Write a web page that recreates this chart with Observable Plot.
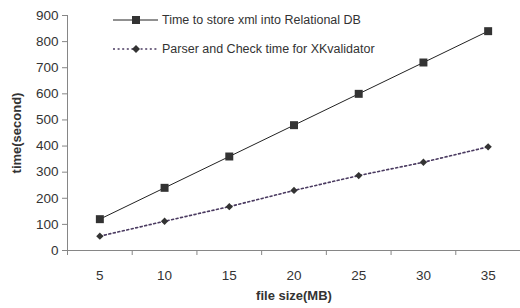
<!DOCTYPE html>
<html><head><meta charset="utf-8">
<script src="https://cdn.jsdelivr.net/npm/d3@7"></script>
<script src="https://cdn.jsdelivr.net/npm/@observablehq/plot@0.6"></script>
<style>
html,body{margin:0;padding:0;background:#fff;}
#wrap{position:relative;width:520px;height:308px;font-family:"Liberation Sans",Arial,sans-serif;}
#legend{position:absolute;left:113px;top:12px;font-size:12.5px;color:#333;}
.item{display:flex;align-items:center;height:16px;margin-bottom:13px;}
.item svg{margin-right:3px;}
</style></head>
<body><div id="wrap"></div>
<script>
const sizes = [5, 10, 15, 20, 25, 30, 35];
const storeTimes = [120, 240, 360, 480, 600, 720, 840];
const parserTimes = [55, 112, 168, 230, 287, 338, 397];
const yTicks = [0, 100, 200, 300, 400, 500, 600, 700, 800, 900];
const seriesNames = ["Time to store xml into Relational DB", "Parser and Check time for XKvalidator"];
const xTitle = "file size(MB)";
const yTitle = "time(second)";

const step = sizes[1] - sizes[0];
const xDomain = [sizes[0] - step / 2, sizes[sizes.length - 1] + step / 2];
const bounds = sizes.map(s => s - step / 2).concat([sizes[sizes.length - 1] + step / 2]);
const store = sizes.map((s, i) => ({size: s, t: storeTimes[i]}));
const parser = sizes.map((s, i) => ({size: s, t: parserTimes[i]}));
const axisColor = "#868686";

const plot = Plot.plot({
  width: 520, height: 308,
  marginLeft: 67, marginRight: 0, marginTop: 15, marginBottom: 58,
  style: {fontFamily: "'Liberation Sans', Arial, sans-serif", fontSize: "13.5px", color: "#333", background: "#fff"},
  x: {domain: xDomain},
  y: {domain: [0, 900]},
  marks: [
    Plot.axisY({ticks: yTicks, tickSize: 5, tickPadding: 4, stroke: axisColor, label: null, fontSize: 13.5}),
    Plot.axisX({ticks: sizes, tickSize: 0, tickPadding: 20, label: null, fontSize: 13.5}),
    Plot.axisX({ticks: bounds, tickSize: 5, tickFormat: () => "", stroke: axisColor, label: null}),
    Plot.text([yTitle], {frameAnchor: "left", dx: -51, rotate: -90, lineAnchor: "middle", textAnchor: "middle", fontWeight: "bold", fontSize: 13, fill: "#333"}),
    Plot.text([xTitle], {frameAnchor: "bottom", dy: 45, lineAnchor: "middle", textAnchor: "middle", fontWeight: "bold", fontSize: 13, fill: "#333"}),
    Plot.ruleY([0], {stroke: axisColor}),
    Plot.ruleX([xDomain[0]], {stroke: axisColor}),
    Plot.line(store, {x: "size", y: "t", stroke: "#222", strokeWidth: 1}),
    Plot.line(parser, {x: "size", y: "t", stroke: "#4a3a60", strokeWidth: 1.6, strokeDasharray: "2 2.6"}),
    Plot.dot(store, {x: "size", y: "t", symbol: "square", r: 4.5, fill: "#333", stroke: "none"}),
    Plot.dot(parser, {x: "size", y: "t", symbol: "diamond2", r: 3.3, fill: "#333", stroke: "none"})
  ]
});
const wrap = document.getElementById("wrap");
wrap.appendChild(plot);

const legend = document.createElement("div");
legend.id = "legend";
legend.innerHTML = `
<div class="item"><svg width="46" height="16"><line x1="0" y1="8" x2="45" y2="8" stroke="#222" stroke-width="1"/><rect x="19" y="4" width="8" height="8" fill="#333"/></svg><span>${seriesNames[0]}</span></div>
<div class="item"><svg width="46" height="16"><line x1="0" y1="8" x2="45" y2="8" stroke="#4a3a60" stroke-width="1.6" stroke-dasharray="2 2.6"/><path d="M23,4 L27,8 L23,12 L19,8 Z" fill="#333"/></svg><span>${seriesNames[1]}</span></div>`;
wrap.appendChild(legend);
</script></body></html>
